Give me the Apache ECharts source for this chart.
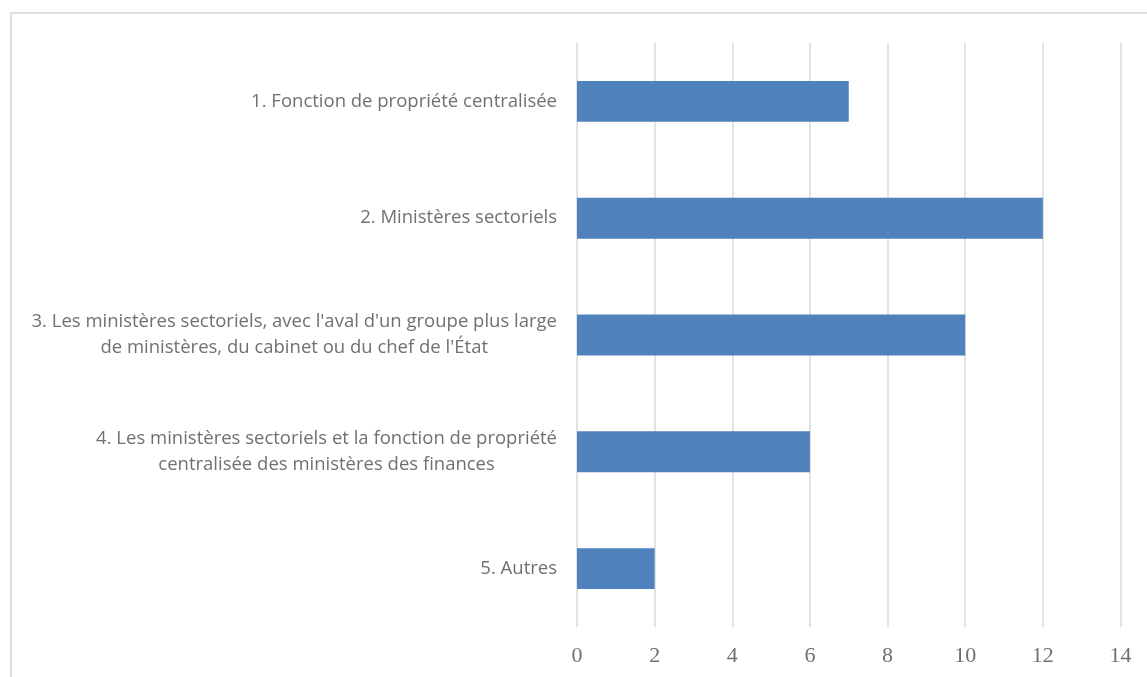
<!DOCTYPE html>
<html>
<head>
<meta charset="utf-8">
<script src="https://cdn.jsdelivr.net/npm/echarts@6/dist/echarts.min.js"></script>
<style>
html,body{margin:0;padding:0;background:#fff;}
#chart{width:1147px;height:677px;}
</style>
</head>
<body>
<div id="chart"></div>
<script>
var categories = [
  "1. Fonction de propriété centralisée",
  "2. Ministères sectoriels",
  "3. Les ministères sectoriels, avec l'aval d'un groupe plus large\nde ministères, du cabinet ou du chef de l'État",
  "4. Les ministères sectoriels et la fonction de propriété\ncentralisée des ministères des finances",
  "5. Autres"
];
var values = [7, 12, 10, 6, 2];
var xTicks = [0, 2, 4, 6, 8, 10, 12, 14];

var chart = echarts.init(document.getElementById('chart'));
chart.setOption({
  animation: false,
  backgroundColor: '#ffffff',
  graphic: [{
    type: 'rect',
    shape: {x: 11, y: 13, width: 1300, height: 800},
    style: {fill: 'none', stroke: '#e0e0e0', lineWidth: 2},
    silent: true,
    z: -1
  }],
  grid: {left: 577, right: 26.5, top: 43, bottom: 50, containLabel: false},
  xAxis: {
    type: 'value',
    min: xTicks[0],
    max: xTicks[xTicks.length - 1],
    interval: 2,
    axisLine: {show: false},
    axisTick: {show: false},
    splitLine: {show: true, lineStyle: {color: '#d9d9d9', width: 1.5}},
    axisLabel: {
      color: '#707070',
      fontFamily: 'Liberation Serif, serif',
      fontSize: 22,
      margin: 18
    }
  },
  yAxis: {
    type: 'category',
    data: categories,
    inverse: true,
    axisLine: {show: false},
    axisTick: {show: false},
    axisLabel: {
      margin: 20,
      align: 'right',
      color: '#707070',
      fontFamily: 'Open Sans, sans-serif',
      fontSize: 18.5,
      lineHeight: 26,
      formatter: function (v) {
        return v.split('\n').map(function (l) { return '{c|' + l + '}'; }).join('\n');
      },
      rich: {
        c: {align: 'center', color: '#707070', fontFamily: 'Open Sans, sans-serif', fontSize: 18.5, lineHeight: 26}
      }
    }
  },
  series: [{
    type: 'bar',
    data: values,
    barWidth: '35%',
    itemStyle: {color: '#4f81bd'}
  }]
});
</script>
</body>
</html>
